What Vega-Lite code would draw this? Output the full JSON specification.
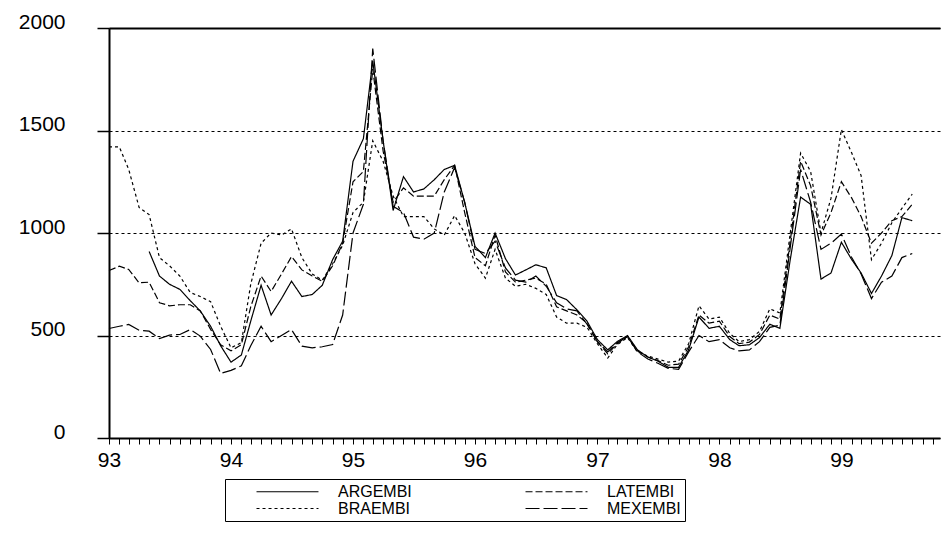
{
"$schema": "https://vega.github.io/schema/vega-lite/v6.json",
"width": 831, "height": 410,
"autosize": "none",
"padding": {"left": 109, "top": 28, "right": 3, "bottom": 105},
"background": "white",
"config": {"view": {"stroke": null}, "font": "Liberation Sans"},
"data": {"values": [
{"date":"1993-01-01","ARGEMBI":null,"LATEMBI":817,"BRAEMBI":1420,"MEXEMBI":534},
{"date":"1993-02-01","ARGEMBI":null,"LATEMBI":838,"BRAEMBI":1420,"MEXEMBI":545},
{"date":"1993-03-01","ARGEMBI":null,"LATEMBI":822,"BRAEMBI":1310,"MEXEMBI":554},
{"date":"1993-04-01","ARGEMBI":null,"LATEMBI":757,"BRAEMBI":1125,"MEXEMBI":526},
{"date":"1993-05-01","ARGEMBI":910,"LATEMBI":760,"BRAEMBI":1090,"MEXEMBI":521},
{"date":"1993-06-01","ARGEMBI":790,"LATEMBI":660,"BRAEMBI":880,"MEXEMBI":485},
{"date":"1993-07-01","ARGEMBI":750,"LATEMBI":645,"BRAEMBI":840,"MEXEMBI":502},
{"date":"1993-08-01","ARGEMBI":725,"LATEMBI":650,"BRAEMBI":790,"MEXEMBI":505},
{"date":"1993-09-01","ARGEMBI":670,"LATEMBI":650,"BRAEMBI":710,"MEXEMBI":529},
{"date":"1993-10-01","ARGEMBI":620,"LATEMBI":620,"BRAEMBI":690,"MEXEMBI":497},
{"date":"1993-11-01","ARGEMBI":545,"LATEMBI":530,"BRAEMBI":665,"MEXEMBI":432},
{"date":"1993-12-01","ARGEMBI":450,"LATEMBI":455,"BRAEMBI":545,"MEXEMBI":315},
{"date":"1994-01-01","ARGEMBI":370,"LATEMBI":425,"BRAEMBI":440,"MEXEMBI":330},
{"date":"1994-02-01","ARGEMBI":405,"LATEMBI":455,"BRAEMBI":465,"MEXEMBI":352},
{"date":"1994-03-01","ARGEMBI":570,"LATEMBI":640,"BRAEMBI":750,"MEXEMBI":450},
{"date":"1994-04-01","ARGEMBI":745,"LATEMBI":790,"BRAEMBI":950,"MEXEMBI":545},
{"date":"1994-05-01","ARGEMBI":600,"LATEMBI":715,"BRAEMBI":1000,"MEXEMBI":470},
{"date":"1994-06-01","ARGEMBI":680,"LATEMBI":800,"BRAEMBI":990,"MEXEMBI":500},
{"date":"1994-07-01","ARGEMBI":765,"LATEMBI":885,"BRAEMBI":1020,"MEXEMBI":529},
{"date":"1994-08-01","ARGEMBI":690,"LATEMBI":820,"BRAEMBI":880,"MEXEMBI":448},
{"date":"1994-09-01","ARGEMBI":700,"LATEMBI":790,"BRAEMBI":800,"MEXEMBI":440},
{"date":"1994-10-01","ARGEMBI":745,"LATEMBI":765,"BRAEMBI":770,"MEXEMBI":445},
{"date":"1994-11-01","ARGEMBI":870,"LATEMBI":840,"BRAEMBI":850,"MEXEMBI":456},
{"date":"1994-12-01","ARGEMBI":960,"LATEMBI":950,"BRAEMBI":940,"MEXEMBI":600},
{"date":"1995-01-01","ARGEMBI":1350,"LATEMBI":1250,"BRAEMBI":1100,"MEXEMBI":1000},
{"date":"1995-02-01","ARGEMBI":1460,"LATEMBI":1300,"BRAEMBI":1150,"MEXEMBI":1140},
{"date":"1995-03-01","ARGEMBI":1840,"LATEMBI":1800,"BRAEMBI":1450,"MEXEMBI":1900},
{"date":"1995-04-01","ARGEMBI":1450,"LATEMBI":1400,"BRAEMBI":1350,"MEXEMBI":1450},
{"date":"1995-05-01","ARGEMBI":1110,"LATEMBI":1150,"BRAEMBI":1180,"MEXEMBI":1130},
{"date":"1995-06-01","ARGEMBI":1275,"LATEMBI":1220,"BRAEMBI":1080,"MEXEMBI":1100},
{"date":"1995-07-01","ARGEMBI":1200,"LATEMBI":1180,"BRAEMBI":1080,"MEXEMBI":980},
{"date":"1995-08-01","ARGEMBI":1215,"LATEMBI":1180,"BRAEMBI":1080,"MEXEMBI":970},
{"date":"1995-09-01","ARGEMBI":1260,"LATEMBI":1180,"BRAEMBI":1020,"MEXEMBI":1000},
{"date":"1995-10-01","ARGEMBI":1310,"LATEMBI":1260,"BRAEMBI":990,"MEXEMBI":1200},
{"date":"1995-11-01","ARGEMBI":1330,"LATEMBI":1330,"BRAEMBI":1085,"MEXEMBI":1320},
{"date":"1995-12-01","ARGEMBI":1150,"LATEMBI":1100,"BRAEMBI":1000,"MEXEMBI":1150},
{"date":"1996-01-01","ARGEMBI":935,"LATEMBI":880,"BRAEMBI":850,"MEXEMBI":920},
{"date":"1996-02-01","ARGEMBI":880,"LATEMBI":840,"BRAEMBI":780,"MEXEMBI":900},
{"date":"1996-03-01","ARGEMBI":1000,"LATEMBI":990,"BRAEMBI":920,"MEXEMBI":960},
{"date":"1996-04-01","ARGEMBI":875,"LATEMBI":810,"BRAEMBI":780,"MEXEMBI":830},
{"date":"1996-05-01","ARGEMBI":795,"LATEMBI":760,"BRAEMBI":740,"MEXEMBI":770},
{"date":"1996-06-01","ARGEMBI":820,"LATEMBI":770,"BRAEMBI":750,"MEXEMBI":760},
{"date":"1996-07-01","ARGEMBI":845,"LATEMBI":780,"BRAEMBI":730,"MEXEMBI":790},
{"date":"1996-08-01","ARGEMBI":830,"LATEMBI":750,"BRAEMBI":700,"MEXEMBI":740},
{"date":"1996-09-01","ARGEMBI":695,"LATEMBI":640,"BRAEMBI":590,"MEXEMBI":660},
{"date":"1996-10-01","ARGEMBI":675,"LATEMBI":620,"BRAEMBI":560,"MEXEMBI":630},
{"date":"1996-11-01","ARGEMBI":625,"LATEMBI":600,"BRAEMBI":560,"MEXEMBI":620},
{"date":"1996-12-01","ARGEMBI":570,"LATEMBI":560,"BRAEMBI":540,"MEXEMBI":555},
{"date":"1997-01-01","ARGEMBI":480,"LATEMBI":470,"BRAEMBI":460,"MEXEMBI":470},
{"date":"1997-02-01","ARGEMBI":430,"LATEMBI":410,"BRAEMBI":390,"MEXEMBI":420},
{"date":"1997-03-01","ARGEMBI":470,"LATEMBI":460,"BRAEMBI":455,"MEXEMBI":465},
{"date":"1997-04-01","ARGEMBI":500,"LATEMBI":495,"BRAEMBI":490,"MEXEMBI":495},
{"date":"1997-05-01","ARGEMBI":430,"LATEMBI":425,"BRAEMBI":420,"MEXEMBI":420},
{"date":"1997-06-01","ARGEMBI":395,"LATEMBI":395,"BRAEMBI":400,"MEXEMBI":385},
{"date":"1997-07-01","ARGEMBI":375,"LATEMBI":378,"BRAEMBI":385,"MEXEMBI":365},
{"date":"1997-08-01","ARGEMBI":345,"LATEMBI":355,"BRAEMBI":370,"MEXEMBI":340},
{"date":"1997-09-01","ARGEMBI":345,"LATEMBI":360,"BRAEMBI":375,"MEXEMBI":335},
{"date":"1997-10-01","ARGEMBI":430,"LATEMBI":445,"BRAEMBI":460,"MEXEMBI":420},
{"date":"1997-11-01","ARGEMBI":590,"LATEMBI":600,"BRAEMBI":645,"MEXEMBI":500},
{"date":"1997-12-01","ARGEMBI":535,"LATEMBI":560,"BRAEMBI":580,"MEXEMBI":470},
{"date":"1998-01-01","ARGEMBI":545,"LATEMBI":570,"BRAEMBI":590,"MEXEMBI":480},
{"date":"1998-02-01","ARGEMBI":480,"LATEMBI":495,"BRAEMBI":510,"MEXEMBI":440},
{"date":"1998-03-01","ARGEMBI":450,"LATEMBI":460,"BRAEMBI":470,"MEXEMBI":425},
{"date":"1998-04-01","ARGEMBI":455,"LATEMBI":468,"BRAEMBI":480,"MEXEMBI":430},
{"date":"1998-05-01","ARGEMBI":490,"LATEMBI":505,"BRAEMBI":520,"MEXEMBI":470},
{"date":"1998-06-01","ARGEMBI":555,"LATEMBI":600,"BRAEMBI":630,"MEXEMBI":540},
{"date":"1998-07-01","ARGEMBI":535,"LATEMBI":580,"BRAEMBI":610,"MEXEMBI":550},
{"date":"1998-08-01","ARGEMBI":870,"LATEMBI":960,"BRAEMBI":1000,"MEXEMBI":930},
{"date":"1998-09-01","ARGEMBI":1175,"LATEMBI":1350,"BRAEMBI":1390,"MEXEMBI":1310},
{"date":"1998-10-01","ARGEMBI":1140,"LATEMBI":1230,"BRAEMBI":1300,"MEXEMBI":1150},
{"date":"1998-11-01","ARGEMBI":775,"LATEMBI":990,"BRAEMBI":1000,"MEXEMBI":920},
{"date":"1998-12-01","ARGEMBI":805,"LATEMBI":1100,"BRAEMBI":1170,"MEXEMBI":950},
{"date":"1999-01-01","ARGEMBI":955,"LATEMBI":1250,"BRAEMBI":1505,"MEXEMBI":995},
{"date":"1999-02-01","ARGEMBI":870,"LATEMBI":1170,"BRAEMBI":1390,"MEXEMBI":880},
{"date":"1999-03-01","ARGEMBI":805,"LATEMBI":1080,"BRAEMBI":1280,"MEXEMBI":800},
{"date":"1999-04-01","ARGEMBI":705,"LATEMBI":950,"BRAEMBI":870,"MEXEMBI":680},
{"date":"1999-05-01","ARGEMBI":790,"LATEMBI":1000,"BRAEMBI":950,"MEXEMBI":760},
{"date":"1999-06-01","ARGEMBI":890,"LATEMBI":1060,"BRAEMBI":1050,"MEXEMBI":790},
{"date":"1999-07-01","ARGEMBI":1075,"LATEMBI":1080,"BRAEMBI":1120,"MEXEMBI":880},
{"date":"1999-08-01","ARGEMBI":1060,"LATEMBI":1140,"BRAEMBI":1190,"MEXEMBI":900}
]},
"transform": [{"fold": ["ARGEMBI", "LATEMBI", "BRAEMBI", "MEXEMBI"], "as": ["series", "value"]}],
"layer": [
{
"mark": {"type": "line", "color": "black", "strokeWidth": 1.2},
"encoding": {
"x": {"field": "date", "type": "temporal",
"scale": {"domain": [{"year": 1993, "month": 1, "date": 1}, {"year": 1999, "month": 10, "date": 23}]},
"axis": {"title": null, "orient": "bottom", "values": [{"year": 1993}, {"year": 1994}, {"year": 1995}, {"year": 1996}, {"year": 1997}, {"year": 1998}, {"year": 1999}],
"format": "%y", "ticks": false, "grid": false, "domain": true, "domainColor": "black", "domainWidth": 2,
"labelFontSize": 21, "labelColor": "black", "labelFont": "Liberation Sans", "labelPadding": 11, "labelFlush": false, "labelOverlap": false, "labelDx": -2}},
"y": {"field": "value", "type": "quantitative",
"scale": {"domain": [0, 2000]},
"axis": {"title": null, "orient": "left", "values": [0, 500, 1000, 1500, 2000], "format": "d", "grid": true, "gridDash": [3, 3], "gridColor": "black", "gridWidth": 1,
"tickSize": 12, "tickColor": "black", "tickWidth": 1.5, "domainColor": "black", "domainWidth": 2,
"labelFontSize": 21, "labelColor": "black", "labelFont": "Liberation Sans", "labelBaseline": "alphabetic", "labelPadding": 32, "labelFlush": false, "labelOverlap": false}},
"strokeDash": {"field": "series", "type": "nominal",
"scale": {"domain": ["ARGEMBI", "BRAEMBI", "LATEMBI", "MEXEMBI"], "range": [[1, 0], [3, 3], [7, 3], [14, 4]]},
"legend": {"orient": "none", "legendX": 116, "legendY": 451, "columns": 2, "title": null,
"symbolType": "M-4,0H4", "symbolSize": 240, "symbolStrokeColor": "black", "symbolStrokeWidth": 1.2, "symbolOffset": 50,
"labelFontSize": 16, "labelFont": "Liberation Sans", "labelColor": "black", "labelOffset": 42,
"columnPadding": 86, "rowPadding": -1, "padding": 4, "strokeColor": "black"}}
}
},
{
"mark": {"type": "line", "strokeOpacity": 0},
"encoding": {
"x": {"field": "date", "type": "temporal",
"axis": {"title": null, "orient": "bottom", "tickCount": {"interval": "month", "step": 1}, "labels": false, "domain": false, "grid": false,
"ticks": true, "tickSize": 6, "tickColor": "black", "tickWidth": 1}},
"y": {"field": "value", "type": "quantitative", "axis": null},
"detail": {"field": "series", "type": "nominal"}
}
},
{
"mark": {"type": "line", "strokeOpacity": 0},
"encoding": {
"x": {"field": "date", "type": "temporal",
"axis": {"title": null, "orient": "top", "labels": false, "ticks": false, "grid": false, "domain": true, "domainColor": "black", "domainWidth": 2}},
"y": {"field": "value", "type": "quantitative", "axis": null},
"detail": {"field": "series", "type": "nominal"}
}
}
],
"resolve": {"axis": {"x": "independent", "y": "independent"}}
}
